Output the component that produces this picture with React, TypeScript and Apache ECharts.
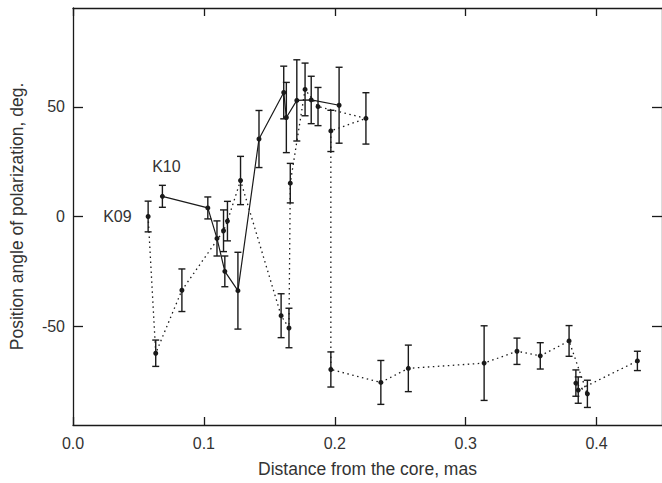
import React, { useRef, useEffect } from 'react'
import * as echarts from 'echarts'

// K09 component (dotted), points in the order they are joined
const k09X = [0.0574, 0.0632, 0.0832, 0.115, 0.118, 0.128, 0.159, 0.165, 0.166, 0.1773, 0.1872, 0.2238, 0.197, 0.197, 0.2352, 0.2562, 0.3141, 0.3392, 0.357, 0.379, 0.393, 0.3842, 0.386, 0.4312]
const k09Y = [0, -62.3, -33.6, -6.5, -2.1, 16.4, -45.2, -50.8, 15.2, 57.9, 50.1, 44.7, 39, -69.7, -75.6, -69.2, -66.8, -61.4, -63.5, -56.7, -80.8, -75.9, -79.1, -65.8]
const k09Err = [7, 6, 9.7, 9.5, 9, 11, 10, 9, 9, 12, 8.7, 11.7, 9.4, 8, 10, 10.6, 17, 6, 6, 7, 6.2, 6, 6, 4.4]

// K10 component (solid)
const k10X = [0.0683, 0.103, 0.11, 0.116, 0.126, 0.1421, 0.161, 0.163, 0.171, 0.182, 0.2033]
const k10Y = [9.2, 3.9, -10, -25, -33.8, 35.3, 56.5, 45.1, 52.9, 53.1, 50.7]
const k10Err = [5, 5, 8, 7, 17.5, 13, 12, 16, 18.5, 10.8, 17.3]

const xTicks = [0, 0.1, 0.2, 0.3, 0.4]
const yTicks = [-50, 0, 50]

const FONT = 'Liberation Sans, Arial, Helvetica, sans-serif'
const INK = '#1a1a1a'

const errorSeries = (xs: number[], ys: number[], errs: number[]) => ({
  type: 'custom',
  data: xs.map((x, i) => [x, ys[i] - errs[i], ys[i] + errs[i]]),
  encode: { x: 0, y: [1, 2] },
  z: 1,
  renderItem: (_params: any, api: any) => {
    const x = api.value(0)
    const top = api.coord([x, api.value(2)])
    const bot = api.coord([x, api.value(1)])
    const style = { stroke: INK, lineWidth: 1.4 }
    const cap = 3.5
    return {
      type: 'group',
      children: [
        { type: 'line', shape: { x1: top[0], y1: top[1], x2: bot[0], y2: bot[1] }, style },
        { type: 'line', shape: { x1: top[0] - cap, y1: top[1], x2: top[0] + cap, y2: top[1] }, style },
        { type: 'line', shape: { x1: bot[0] - cap, y1: bot[1], x2: bot[0] + cap, y2: bot[1] }, style },
      ],
    }
  },
})

const App: React.FC = () => {
  const chartRef = useRef<HTMLDivElement>(null)

  useEffect(() => {
    if (!chartRef.current) return
    const chart = echarts.init(chartRef.current, undefined, { renderer: 'svg' })

    const tickLabel = { fontFamily: FONT, fontSize: 16, color: '#333' }
    const nameStyle = { fontFamily: FONT, fontSize: 17.5, color: '#333' }
    const axisLine = { show: true, onZero: false, lineStyle: { color: INK, width: 1.3 } }

    const k09Data = k09X.map((x, i) =>
      i === 0
        ? { value: [x, k09Y[i]], label: { show: true, formatter: 'K09', position: 'left', distance: 14, ...tickLabel } }
        : [x, k09Y[i]],
    )
    const k10Data = k10X.map((x, i) =>
      i === 0
        ? { value: [x, k10Y[i]], label: { show: true, formatter: 'K10', position: 'top', distance: 19, offset: [4, 0], ...tickLabel } }
        : [x, k10Y[i]],
    )

    const option = {
      animation: false,
      grid: { left: 71, right: -2, top: 8, bottom: 55 },
      xAxis: [
        {
          type: 'value',
          position: 'bottom',
          min: 0,
          max: 0.45,
          axisLine,
          axisTick: { show: true, inside: true, length: 8, customValues: xTicks, lineStyle: { color: INK, width: 1.3 } },
          axisLabel: { ...tickLabel, margin: 10, customValues: xTicks, formatter: (v: number) => v.toFixed(1) },
          splitLine: { show: false },
          name: 'Distance from the core, mas',
          nameLocation: 'middle',
          nameGap: 35,
          nameTextStyle: nameStyle,
        },
        {
          type: 'value',
          position: 'top',
          min: 0,
          max: 0.45,
          axisLine,
          axisTick: { show: true, inside: true, length: 8, customValues: xTicks, lineStyle: { color: INK, width: 1.3 } },
          axisLabel: { show: false },
          splitLine: { show: false },
        },
      ],
      yAxis: [
        {
          type: 'value',
          position: 'left',
          min: -95,
          max: 95,
          axisLine,
          axisTick: { show: true, inside: true, length: 10, customValues: yTicks, lineStyle: { color: INK, width: 1.3 } },
          axisLabel: { ...tickLabel, margin: 8, customValues: yTicks },
          splitLine: { show: false },
          name: 'Position angle of polarization, deg.',
          nameLocation: 'middle',
          nameGap: 47,
          nameTextStyle: nameStyle,
        },
        {
          type: 'value',
          position: 'right',
          min: -95,
          max: 95,
          axisLine,
          axisTick: { show: true, inside: true, length: 10, customValues: yTicks, lineStyle: { color: INK, width: 1.3 } },
          axisLabel: { show: false },
          splitLine: { show: false },
        },
      ],
      series: [
        errorSeries(k09X, k09Y, k09Err),
        errorSeries(k10X, k10Y, k10Err),
        {
          name: 'K09',
          type: 'line',
          data: k09Data,
          symbol: 'circle',
          symbolSize: 5,
          itemStyle: { color: INK },
          lineStyle: { color: INK, width: 1.3, type: [1.5, 3.5] },
          z: 3,
        },
        {
          name: 'K10',
          type: 'line',
          data: k10Data,
          symbol: 'circle',
          symbolSize: 5,
          itemStyle: { color: INK },
          lineStyle: { color: INK, width: 1.2 },
          z: 3,
        },
      ],
    }

    chart.setOption(option)
    return () => {
      chart.dispose()
    }
  }, [])

  return (
    <div
      ref={chartRef}
      style={{ position: 'fixed', left: 0, top: 0, width: '662px', height: '483px', background: '#fff' }}
    />
  )
}

export default App
